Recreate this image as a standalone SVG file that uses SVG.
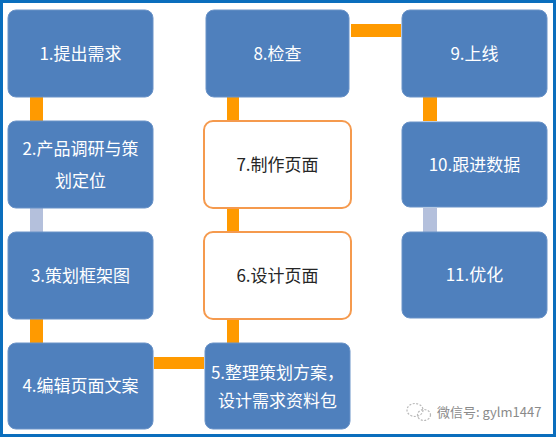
<svg xmlns="http://www.w3.org/2000/svg" width="558" height="438" viewBox="0 0 558 438">
<style>
.b{fill:#4F80BD;stroke:#6A93C8;stroke-width:1}
.w{fill:#FFFFFF;stroke:#F59A4E;stroke-width:2}
.t{font-family:"Noto Sans CJK SC","Microsoft YaHei","Liberation Sans",sans-serif;font-size:17px;text-anchor:middle}
.tw{fill:#FFFFFF}
.tk{fill:#262626}
.o{fill:#FF9A00}
.g{fill:#B4C0DC}
.wm{font-family:"Noto Sans CJK SC","Liberation Sans",sans-serif;font-size:13px;fill:#8A8A8A}
</style>
<rect x="0" y="0" width="558" height="438" fill="#FFFFFF"/>
<rect x="1.5" y="1.5" width="553" height="434" fill="none" stroke="#0A6EBD" stroke-width="3"/>
<g id="connectors">
<rect class="o" x="30" y="97" width="13" height="24"/>
<rect class="g" x="30" y="208" width="13" height="24"/>
<rect class="o" x="30" y="319" width="13" height="24"/>
<rect class="o" x="154" y="357" width="50" height="12"/>
<rect class="o" x="227" y="319" width="12" height="24"/>
<rect class="o" x="227" y="208" width="12" height="24"/>
<rect class="o" x="227" y="97" width="12" height="24"/>
<rect class="o" x="351" y="24" width="50" height="13"/>
<rect class="o" x="423" y="97" width="14" height="24"/>
<rect class="g" x="423" y="208" width="14" height="24"/>
</g>
<g id="n1"><rect class="b" x="8" y="10" width="145" height="87" rx="8"/><text class="t tw" x="80.5" y="59.5">1.提出需求</text></g>
<g id="n2"><rect class="b" x="8" y="121" width="145" height="87" rx="8"/><text class="t tw" x="80.5" y="155">2.产品调研与策</text><text class="t tw" x="80.5" y="187">划定位</text></g>
<g id="n3"><rect class="b" x="8" y="232" width="145" height="87" rx="8"/><text class="t tw" x="80.5" y="281.5">3.策划框架图</text></g>
<g id="n4"><rect class="b" x="8" y="343" width="145" height="86" rx="8"/><text class="t tw" x="80.5" y="392">4.编辑页面文案</text></g>
<g id="n5"><rect class="b" x="205" y="343" width="145" height="86" rx="8"/><text class="t tw" x="277.5" y="379">5.整理策划方案，</text><text class="t tw" x="277.5" y="407">设计需求资料包</text></g>
<g id="n6"><rect class="w" x="204" y="232" width="147" height="87" rx="9"/><text class="t tk" x="277.5" y="281.5">6.设计页面</text></g>
<g id="n7"><rect class="w" x="204" y="121" width="147" height="87" rx="9"/><text class="t tk" x="277.5" y="170.5">7.制作页面</text></g>
<g id="n8"><rect class="b" x="206" y="10" width="143" height="87" rx="8"/><text class="t tw" x="277.5" y="59.5">8.检查</text></g>
<g id="n9"><rect class="b" x="402" y="10" width="145" height="87" rx="8"/><text class="t tw" x="474.5" y="59.5">9.上线</text></g>
<g id="n10"><rect class="b" x="402" y="122" width="145" height="85" rx="8"/><text class="t tw" x="474.5" y="170.5">10.跟进数据</text></g>
<g id="n11"><rect class="b" x="402" y="232" width="145" height="86" rx="8"/><text class="t tw" x="474.5" y="281">11.优化</text></g>
<g id="watermark">
<ellipse cx="415" cy="410" rx="8" ry="6.5" fill="none" stroke="#B8B8B8" stroke-width="1.2" stroke-dasharray="2 1.5"/>
<ellipse cx="424" cy="415" rx="6.5" ry="5.5" fill="none" stroke="#B8B8B8" stroke-width="1.2" stroke-dasharray="2 1.5"/>
<text class="wm" x="437" y="417">微信号: gylm1447</text>
</g>
</svg>
